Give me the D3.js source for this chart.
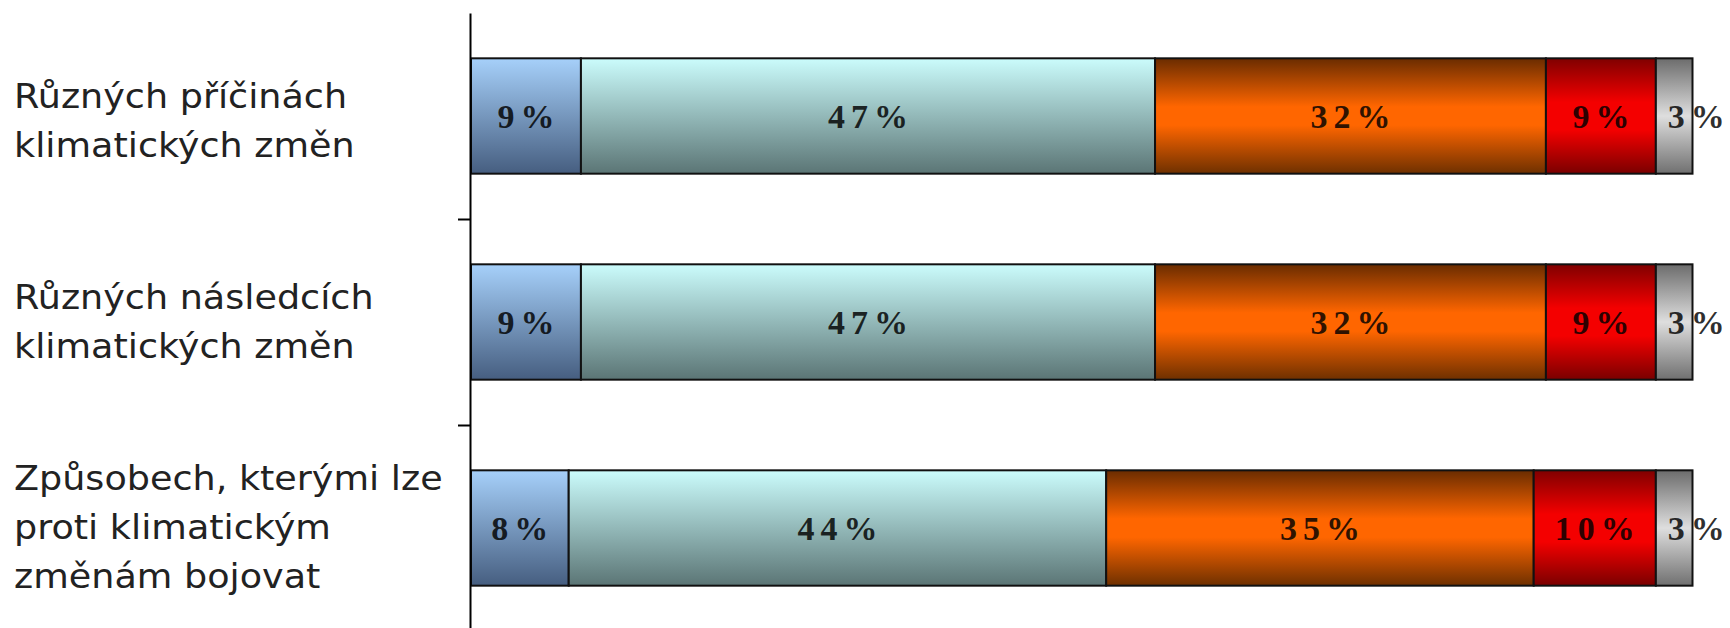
<!DOCTYPE html>
<html><head><meta charset="utf-8">
<script src="https://cdn.jsdelivr.net/npm/d3@7"></script>
<style>html,body{margin:0;padding:0;background:#fff;}svg{display:block;}</style>
</head><body>
<svg id="c" width="1730" height="628"></svg>
<script>
const categories = [
  ["Různých příčinách", "klimatických změn"],
  ["Různých následcích", "klimatických změn"],
  ["Způsobech, kterými lze", "proti klimatickým", "změnám bojovat"]
];
const series1 = [9, 9, 8];
const series2 = [47, 47, 44];
const series3 = [32, 32, 35];
const series4 = [9, 9, 10];
const series5 = [3, 3, 3];
const valueLabels = [
  ["9%", "47%", "32%", "9%", "3%"],
  ["9%", "47%", "32%", "9%", "3%"],
  ["8%", "44%", "35%", "10%", "3%"]
];
const gradients = [
  [[0, "#a6d0fa"], [1, "#465e80"]],
  [[0, "#cbfcfc"], [1, "#5b7575"]],
  [[0, "#6a2c00"], [0.42, "#ff6600"], [0.58, "#ff6600"], [1, "#6e3000"]],
  [[0, "#800000"], [0.38, "#f40000"], [0.62, "#f40000"], [1, "#7a0000"]],
  [[0, "#6c6c6c"], [0.5, "#dedede"], [1, "#707070"]]
];

const svg = d3.select("#c");
const keys = ["s1","s2","s3","s4","s5"];
const allSeries = [series1, series2, series3, series4, series5];
const rows = categories.map((c, i) => {
  const r = {idx: i};
  keys.forEach((k, j) => r[k] = allSeries[j][i]);
  return r;
});
const stack = d3.stack().keys(keys)(rows);

const x = d3.scaleLinear().domain([0, 100]).range([471, 1692.5]);
const y = d3.scaleBand().domain(d3.range(categories.length)).range([13, 631]).paddingInner(0.44).paddingOuter(0.22);
const yEdge = d3.scaleLinear().domain([0, categories.length]).range([13, 631]);

const defs = svg.append("defs");
gradients.forEach((g, j) => {
  const lg = defs.append("linearGradient").attr("id", "g" + j)
    .attr("x1", 0).attr("y1", 0).attr("x2", 0).attr("y2", 1);
  g.forEach(s => lg.append("stop").attr("offset", s[0]).attr("stop-color", s[1]));
});

// bars
stack.forEach((layer, j) => {
  svg.append("g").selectAll("rect").data(layer).join("rect")
    .attr("x", d => x(d[0]))
    .attr("y", (d, i) => y(i))
    .attr("width", d => x(d[1]) - x(d[0]))
    .attr("height", y.bandwidth())
    .attr("fill", "url(#g" + j + ")")
    .attr("stroke", "#111")
    .attr("stroke-width", 2);
});

// value labels
stack.forEach((layer, j) => {
  svg.append("g").selectAll("text").data(layer).join("text")
    .attr("x", d => j === keys.length - 1 ? x(d[0]) + 12 : (x(d[0]) + x(d[1])) / 2 + 3)
    .attr("y", (d, i) => y(i) + y.bandwidth() / 2)
    .attr("dy", "0.36em")
    .attr("text-anchor", j === keys.length - 1 ? "start" : "middle")
    .attr("font-family", "'Liberation Serif', serif")
    .attr("font-weight", "bold")
    .attr("font-size", 34)
    .attr("letter-spacing", 6)
    .attr("fill", "#000")
    .attr("fill-opacity", 0.82)
    .text((d, i) => valueLabels[i][j]);
});

// axis
const axis = d3.axisLeft(yEdge).tickValues(d3.range(1, categories.length)).tickFormat("").tickSize(12).tickSizeOuter(0);
const ag = svg.append("g").attr("transform", "translate(470,0)").call(axis);
ag.select(".domain").attr("stroke", "#000").attr("stroke-width", 2);
ag.selectAll(".tick line").attr("stroke", "#000").attr("stroke-width", 2);

// category labels
const lineH = 49;
const lg = svg.append("g");
categories.forEach((lines, i) => {
  const cy = y(i) + y.bandwidth() / 2 + (i === 0 ? 5 : 0);
  const t = lg.append("text")
    .attr("transform", `translate(14,0) scale(1.075,1)`)
    .attr("font-family", "'DejaVu Sans', sans-serif")
    .attr("font-size", 34)
    .attr("fill", "#222");
  lines.forEach((ln, k) => {
    t.append("tspan").attr("x", 0)
      .attr("y", cy + (k - (lines.length - 1) / 2) * lineH)
      .attr("dy", "0.33em")
      .text(ln);
  });
});
</script>
</body></html>
